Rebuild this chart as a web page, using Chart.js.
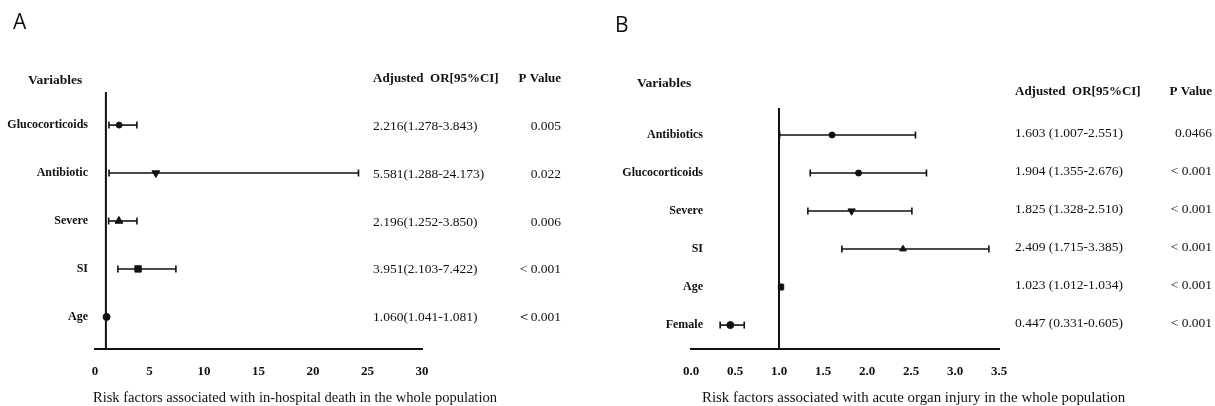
<!DOCTYPE html>
<html><head><meta charset="utf-8">
<script src="https://cdn.jsdelivr.net/npm/chart.js@4"></script>
<style>
html,body{margin:0;padding:0;background:#fff;width:1215px;height:406px;overflow:hidden;}
#wrap{position:relative;width:1215px;height:406px;}
canvas{position:absolute;top:0;}
.t{position:absolute;white-space:nowrap;color:#111;}
.serif{font-family:"Liberation Serif","Times New Roman",serif;}
</style></head><body>
<div id="wrap">
<canvas id="cA" width="600" height="406" style="left:0;width:600px;height:406px"></canvas>
<canvas id="cB" width="615" height="406" style="left:600px;width:615px;height:406px"></canvas>
<div class="t" style="left:13px;top:7px;font:21px 'Open Sans',sans-serif;">A</div>
<div class="t" style="left:615px;top:10px;font:21px 'Open Sans',sans-serif;">B</div>
<div class="t serif" style="left:93px;top:389px;font-size:14.5px;">Risk factors associated with in-hospital death in the whole population</div>
<div class="t serif" style="left:702px;top:389px;font-size:14.9px;">Risk factors associated with acute organ injury in the whole population</div>
</div>
<script>
// ---- Data ----
const catsA = ['Glucocorticoids','Antibiotic','Severe','SI','Age'];
const orA   = [2.216, 5.581, 2.196, 3.951, 1.060];
const loA   = [1.278, 1.288, 1.252, 2.103, 1.041];
const hiA   = [3.843, 24.173, 3.850, 7.422, 1.081];
const ciTextA = ['2.216(1.278-3.843)','5.581(1.288-24.173)','2.196(1.252-3.850)','3.951(2.103-7.422)','1.060(1.041-1.081)'];
const pA    = ['0.005','0.022','0.006','< 0.001','\uFF1C0.001'];
const ticksA = [0,5,10,15,20,25,30];

const catsB = ['Antibiotics','Glucocorticoids','Severe','SI','Age','Female'];
const orB   = [1.603, 1.904, 1.825, 2.409, 1.023, 0.447];
const loB   = [1.007, 1.355, 1.328, 1.715, 1.012, 0.331];
const hiB   = [2.551, 2.676, 2.510, 3.385, 1.034, 0.605];
const ciTextB = ['1.603 (1.007-2.551)','1.904 (1.355-2.676)','1.825 (1.328-2.510)','2.409 (1.715-3.385)','1.023 (1.012-1.034)','0.447 (0.331-0.605)'];
const pB    = ['0.0466','< 0.001','< 0.001','< 0.001','< 0.001','< 0.001'];
const ticksB = [0.0,0.5,1.0,1.5,2.0,2.5,3.0,3.5];

const INK = '#111';
const SERIF = "'Liberation Serif','Times New Roman',serif";

function buildChart(id, cfg){
  const datasets = [];
  // reference line at OR = 1
  datasets.push({type:'line', data:[{x:1,y:cfg.ymin},{x:1,y:cfg.ymax}], borderColor:INK, borderWidth:2, pointRadius:0, showLine:true});
  cfg.cats.forEach((c,i)=>{
    datasets.push({type:'line', data:[{x:cfg.lo[i],y:i},{x:cfg.hi[i],y:i}], borderColor:INK, borderWidth:1.6,
      showLine:true, pointStyle:'line', pointRotation:90, pointRadius:3.5, pointBorderWidth:1.6, pointBorderColor:INK});
  });
  cfg.cats.forEach((c,i)=>{
    datasets.push({type:'scatter', data:[{x:cfg.or[i],y:i}], pointStyle:cfg.styles[i][0], rotation:cfg.styles[i][2]||0,
      pointRadius:cfg.styles[i][1], backgroundColor:INK, borderColor:INK, borderWidth:1});
  });
  const tablePlugin = {
    id:'table'+id,
    afterDraw(chart){
      const ctx = chart.ctx, y = chart.scales.y;
      ctx.save();
      ctx.fillStyle = INK;
      ctx.textBaseline = 'middle';
      ctx.font = 'bold 13px '+SERIF;
      ctx.textAlign='left';
      ctx.fillText('Adjusted  OR[95%CI]', cfg.tx, cfg.hy);
      ctx.textAlign='right';
      ctx.fillText('P Value', cfg.px, cfg.hy);
      ctx.textAlign='left';
      ctx.font = 'bold 13.5px '+SERIF;
      ctx.fillText('Variables', cfg.vx, cfg.vy);
      cfg.cats.forEach((c,i)=>{
        const py = y.getPixelForValue(i);
        ctx.font = 'bold 12px '+SERIF;
        ctx.textAlign='right'; ctx.fillText(c, cfg.lx, py);
        ctx.font = '13.5px '+SERIF;
        ctx.textAlign='left'; ctx.fillText(cfg.ci[i], cfg.tx, py + cfg.tdy);
        ctx.textAlign='right'; ctx.fillText(cfg.p[i], cfg.px, py + cfg.tdy);
      });
      ctx.restore();
    }
  };
  return new Chart(document.getElementById(id), {
    data:{datasets},
    options:{
      responsive:false, animation:false, maintainAspectRatio:false,
      layout:{padding:{left:0,right:cfg.padR,top:cfg.padT,bottom:0}},
      plugins:{legend:{display:false}, tooltip:{enabled:false}},
      scales:{
        x:{type:'linear', min:cfg.ticks[0], max:cfg.ticks[cfg.ticks.length-1],
          afterBuildTicks(s){ s.ticks = cfg.ticks.map(v=>({value:v})); },
          afterFit(s){ s.height = 57; },
          grid:{display:false, drawTicks:false},
          border:{display:true, color:INK, width:2},
          ticks:{color:INK, padding:15, font:{family:SERIF, size:13, weight:'bold'}, maxRotation:0,
            callback:(v)=>cfg.fmt(v)}},
        y:{type:'linear', reverse:true, min:cfg.ymin, max:cfg.ymax,
          afterFit(s){ s.width = cfg.yw; },
          grid:{display:false, drawTicks:false},
          border:{display:false},
          ticks:{display:false}}
      }
    },
    plugins:[tablePlugin]
  });
}

buildChart('cA', {
  cats:catsA, or:orA, lo:loA, hi:hiA, ci:ciTextA, p:pA, ticks:ticksA, fmt:(v)=>String(v),
  styles:[['circle',3],['triangle',4.5,180],['triangle',4.5],['rect',4.5],['circle',3.5]],
  ymin:-0.69, ymax:4.67, padT:92, padR:600-422, yw:95, lx:88,
  tx:373, px:561, hy:79, vx:28, vy:81, tdy:1
});
buildChart('cB', {
  cats:catsB, or:orB, lo:loB, hi:hiB, ci:ciTextB, p:pB, ticks:ticksB, fmt:(v)=>v.toFixed(1),
  styles:[['circle',3],['circle',3],['triangle',4.2,180],['triangle',3.8],['rect',3.8],['circle',3.5]],
  ymin:-0.71, ymax:5.63, padT:108, padR:615-399, yw:91, lx:103,
  tx:415, px:612, hy:92, vx:37, vy:84, tdy:-2
});
</script>
</body></html>
